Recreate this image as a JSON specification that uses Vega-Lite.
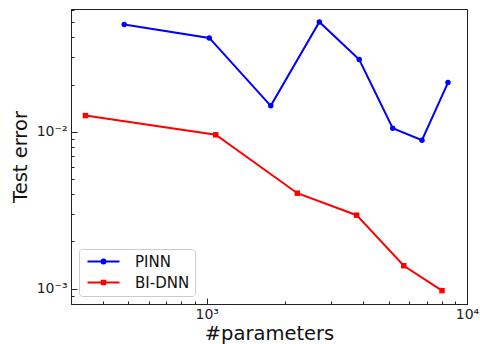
{
  "$schema": "https://vega.github.io/schema/vega-lite/v6.json",
  "width": 396,
  "height": 295,
  "autosize": {"type": "none"},
  "padding": {"left": 71, "top": 9, "right": 13, "bottom": 40},
  "config": {
    "font": "DejaVu Sans",
    "view": {"stroke": "#222", "strokeWidth": 1},
    "axis": {
      "grid": false,
      "domainColor": "#222",
      "domainWidth": 1,
      "tickColor": "#222",
      "tickWidth": 1,
      "labelFont": "DejaVu Sans",
      "labelFontSize": 14,
      "labelColor": "#222",
      "titleFont": "DejaVu Sans",
      "titleFontSize": 19.5,
      "titleFontWeight": "normal",
      "titleColor": "#111"
    }
  },
  "data": {
    "values": [
      {"params": 482, "error": 0.0484, "model": "PINN"},
      {"params": 1023, "error": 0.0397, "model": "PINN"},
      {"params": 1762, "error": 0.01465, "model": "PINN"},
      {"params": 2708, "error": 0.0502, "model": "PINN"},
      {"params": 3854, "error": 0.0289, "model": "PINN"},
      {"params": 5183, "error": 0.01054, "model": "PINN"},
      {"params": 6714, "error": 0.00884, "model": "PINN"},
      {"params": 8452, "error": 0.0206, "model": "PINN"},
      {"params": 342, "error": 0.0127, "model": "BI-DNN"},
      {"params": 1083, "error": 0.00957, "model": "BI-DNN"},
      {"params": 2229, "error": 0.00406, "model": "BI-DNN"},
      {"params": 3767, "error": 0.00294, "model": "BI-DNN"},
      {"params": 5716, "error": 0.0014, "model": "BI-DNN"},
      {"params": 8017, "error": 0.000971, "model": "BI-DNN"}
    ]
  },
  "encoding": {
    "x": {
      "field": "params",
      "type": "quantitative",
      "title": "#parameters",
      "scale": {"type": "log", "domain": [301, 10000], "nice": false, "zero": false},
      "axis": {
        "values": [400, 500, 600, 700, 800, 900, 1000, 2000, 3000, 4000, 5000, 6000, 7000, 8000, 9000, 10000],
        "labelExpr": "datum.value == 1000 ? '10³' : datum.value == 10000 ? '10⁴' : ''",
        "tickSize": {"condition": {"test": "datum.value == 1000 || datum.value == 10000", "value": -6}, "value": -3},
        "labelPadding": 9,
        "labelFlush": false,
        "labelOverlap": false,
        "titlePadding": 0
      }
    },
    "y": {
      "field": "error",
      "type": "quantitative",
      "title": "Test error",
      "scale": {"type": "log", "domain": [0.000798, 0.0607], "nice": false, "zero": false},
      "axis": {
        "values": [0.0009, 0.001, 0.002, 0.003, 0.004, 0.005, 0.006, 0.007, 0.008, 0.009, 0.01, 0.02, 0.03, 0.04, 0.05, 0.06],
        "labelExpr": "datum.value == 0.01 ? '10⁻²' : datum.value == 0.001 ? '10⁻³' : ''",
        "tickSize": {"condition": {"test": "datum.value == 0.01 || datum.value == 0.001", "value": -6}, "value": -3},
        "labelPadding": 10,
        "labelFlush": false,
        "labelOverlap": false,
        "titlePadding": 6
      }
    },
    "color": {
      "field": "model",
      "type": "nominal",
      "scale": {"domain": ["PINN", "BI-DNN"], "range": ["#0000ff", "#ff0000"]},
      "legend": {
        "title": null,
        "orient": "bottom-left",
        "offset": 8,
        "padding": 5,
        "strokeColor": "#cccccc",
        "fillColor": "rgba(255,255,255,0.8)",
        "cornerRadius": 3,
        "labelFont": "DejaVu Sans",
        "labelFontSize": 15,
        "labelColor": "#111",
        "symbolSize": 100,
        "symbolOffset": 12,
        "labelOffset": 24,
        "rowPadding": 5,
        "encode": {
          "symbols": {
            "update": {
              "shape": {"signal": "datum.value === 'PINN' ? 'M-3.2,0L3.2,0M0.4,0A0.4,0.4,0,1,1,-0.4,0A0.4,0.4,0,1,1,0.4,0Z' : 'M-3.2,0L3.2,0M-0.34,-0.34L0.34,-0.34L0.34,0.34L-0.34,0.34Z'"},
              "fill": {"signal": "scale('color', datum.value)"},
              "stroke": {"signal": "scale('color', datum.value)"},
              "strokeWidth": {"value": 2},
              "opacity": {"value": 1},
              "fillOpacity": {"value": 1},
              "strokeOpacity": {"value": 1}
            }
          }
        }
      }
    }
  },
  "layer": [
    {"mark": {"type": "line", "strokeWidth": 2}},
    {
      "transform": [{"filter": "datum.model === 'PINN'"}],
      "mark": {"type": "point", "shape": "circle", "filled": true, "size": 30, "opacity": 1}
    },
    {
      "transform": [{"filter": "datum.model === 'BI-DNN'"}],
      "mark": {"type": "point", "shape": "square", "filled": true, "size": 30, "opacity": 1}
    }
  ]
}
